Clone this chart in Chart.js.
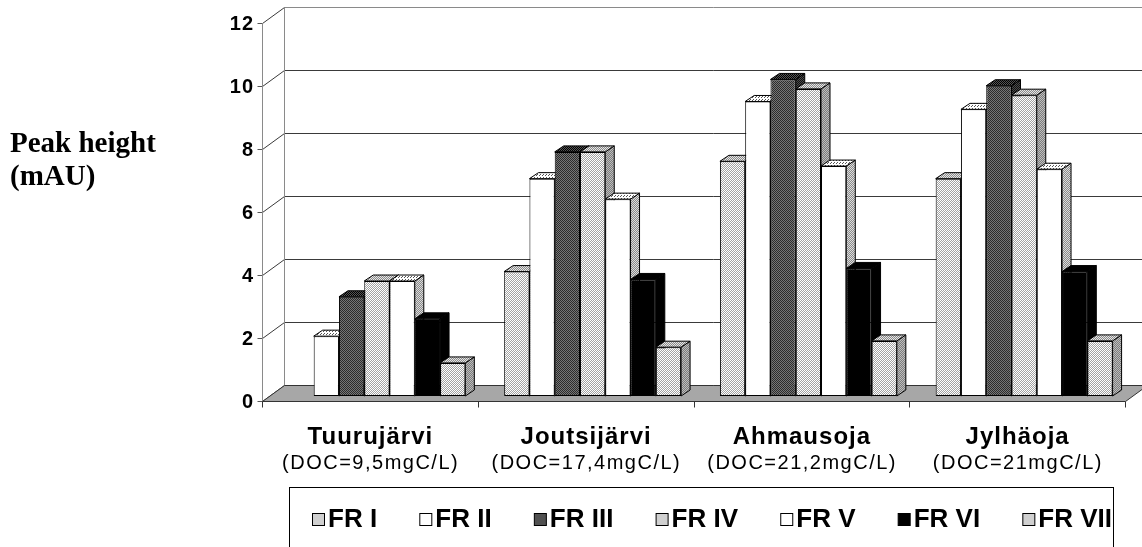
<!DOCTYPE html>
<html lang="en">
<head>
<meta charset="UTF-8">
<title>Peak height by fraction</title>
<script src="https://cdn.jsdelivr.net/npm/chart.js"></script>
<style>
    html, body { margin: 0; padding: 0; background: #fff; }
    #chart { display: block; }
</style>
</head>
<body>
<canvas id="chart" width="1142" height="547"></canvas>
<script>
    const sites = ['Tuurujärvi', 'Joutsijärvi', 'Ahmausoja', 'Jylhäoja'];
    const docLabels = ['(DOC=9,5mgC/L)', '(DOC=17,4mgC/L)', '(DOC=21,2mgC/L)', '(DOC=21mgC/L)'];
    const fractions = ['FR I', 'FR II', 'FR III', 'FR IV', 'FR V', 'FR VI', 'FR VII'];
    const yTicks = [0, 2, 4, 6, 8, 10, 12];

    // peak height (mAU), one value per site
    const frI   = [0,    3.95, 7.45, 6.9];
    const frII  = [1.9,  6.9,  9.35, 9.1];
    const frIII = [3.15, 7.75, 10.05, 9.85];
    const frIV  = [3.65, 7.75, 9.75, 9.55];
    const frV   = [3.65, 6.25, 7.3,  7.2];
    const frVI  = [2.45, 3.7,  4.05, 3.95];
    const frVII = [1.05, 1.55, 1.75, 1.75];
    const series = [frI, frII, frIII, frIV, frV, frVI, frVII];

    // little fill patterns, like the old excel hatches
    const pctx = document.createElement('canvas').getContext('2d');
    function checker(a, b, size) {
        const c = document.createElement('canvas');
        c.width = c.height = size || 2;
        const g = c.getContext('2d');
        g.fillStyle = a;
        g.fillRect(0, 0, c.width, c.height);
        g.fillStyle = b;
        for (let y = 0; y < c.height; y++) {
            for (let x = 0; x < c.width; x++) {
                if ((x + y) % 2 === 1) g.fillRect(x, y, 1, 1);
            }
        }
        return pctx.createPattern(c, 'repeat');
    }
    function dotted(bg, dot) {
        const c = document.createElement('canvas');
        c.width = c.height = 3;
        const g = c.getContext('2d');
        g.fillStyle = bg;
        g.fillRect(0, 0, 3, 3);
        g.fillStyle = dot;
        g.fillRect(0, 0, 1, 1);
        g.fillRect(2, 1, 1, 1);
        return pctx.createPattern(c, 'repeat');
    }

    const lightFront = checker('#ffffff', '#a2a2a2');
    const lightSide = checker('#bdbdbd', '#7c7c7c');
    const lightTop = checker('#e6e6e6', '#8a8a8a');
    const whiteSide = checker('#dcdcdc', '#8a8a8a');
    const whiteTop = dotted('#ffffff', '#555555');
    const darkFront = checker('#2c2c2c', '#777777');
    const darkSide = checker('#111111', '#4a4a4a');
    const darkTop = checker('#000000', '#555555');
    const floorFill = checker('#d4d4d4', '#7a7a7a');

    const seriesStyles = [
        { front: lightFront, side: lightSide, top: lightTop },
        { front: '#ffffff', side: whiteSide, top: whiteTop },
        { front: darkFront, side: darkSide, top: darkTop },
        { front: lightFront, side: lightSide, top: lightTop },
        { front: '#ffffff', side: whiteSide, top: whiteTop },
        { front: '#000000', side: '#000000', top: '#000000' },
        { front: lightFront, side: lightSide, top: lightTop }
    ];

    // offsets of the front edge and back wall from the plane the bars stand in
    const front = { x: -7, y: 5 };
    const back = { x: 15, y: -11 };
    const barDepth = { x: 9, y: 6 };

    function poly(ctx, pts, fill, stroke) {
        ctx.beginPath();
        ctx.moveTo(pts[0][0], pts[0][1]);
        for (let i = 1; i < pts.length; i++) ctx.lineTo(pts[i][0], pts[i][1]);
        ctx.closePath();
        if (fill) { ctx.fillStyle = fill; ctx.fill(); }
        if (stroke) { ctx.strokeStyle = stroke; ctx.lineWidth = 1; ctx.stroke(); }
    }
    function line(ctx, x1, y1, x2, y2, color) {
        ctx.beginPath();
        ctx.moveTo(x1, y1);
        ctx.lineTo(x2, y2);
        ctx.strokeStyle = color;
        ctx.lineWidth = 1;
        ctx.stroke();
    }
    function text(ctx, str, x, y, font, align, spacing, baseline) {
        ctx.save();
        ctx.font = font;
        ctx.fillStyle = '#000';
        ctx.textAlign = align;
        ctx.textBaseline = baseline || 'middle';
        if (spacing) {
            ctx.letterSpacing = spacing + 'px';
            if (align === 'center') x += spacing / 2;
        }
        ctx.fillText(str, x, y);
        ctx.restore();
    }

    const threeD = {
        id: 'threeD',
        beforeDatasetsDraw(chart) {
            const ctx = chart.ctx;
            const xs = chart.scales.x, ys = chart.scales.y;
            const L = xs.left, R = xs.right;
            const y0 = ys.getPixelForValue(0);
            const yTop = ys.getPixelForValue(yTicks[yTicks.length - 1]);
            ctx.save();
            ctx.translate(0.5, 0.5);

            // back wall grid + side wall
            yTicks.forEach(v => {
                const yy = Math.round(ys.getPixelForValue(v));
                line(ctx, Math.round(L + back.x), yy + back.y, R + back.x + 20, yy + back.y, v === 12 ? '#8a8a8a' : '#3a3a3a');
                line(ctx, Math.round(L + front.x), yy + front.y, Math.round(L + back.x), yy + back.y, '#3a3a3a');
                line(ctx, Math.round(L + front.x) - 5, yy + front.y, Math.round(L + front.x), yy + front.y, '#555');
            });
            line(ctx, Math.round(L + back.x), Math.round(yTop) + back.y, Math.round(L + back.x), Math.round(y0) + back.y, '#8a8a8a');
            line(ctx, Math.round(L + front.x), Math.round(yTop) + front.y, Math.round(L + front.x), Math.round(y0) + front.y + 4, '#8a8a8a');

            // floor
            const fy = Math.round(y0) + front.y, by = Math.round(y0) + back.y;
            poly(ctx, [[L + front.x, fy], [R + front.x, fy], [R + back.x, by], [L + back.x, by]], floorFill, '#333');
            const step = (R - L) / sites.length;
            for (let k = 0; k <= sites.length; k++) {
                const xx = Math.round(L + k * step + front.x);
                line(ctx, xx, fy, xx, fy + 6, '#333');
            }
            ctx.restore();
        },
        // chart.js paints datasets last-to-first; skip that and paint them
        // left to right ourselves so each bar hides its left neighbour's side
        beforeDatasetDraw() {
            return false;
        },
        afterDatasetsDraw(chart) {
            const ctx = chart.ctx;
            series.forEach((vals, i) => {
                const st = seriesStyles[i];
                chart.getDatasetMeta(i).data.forEach((bar, j) => {
                    if (!(vals[j] > 0)) return;
                    bar.draw(ctx);
                    const p = bar.getProps(['x', 'y', 'base', 'width'], true);
                    const l = p.x - p.width / 2, r = p.x + p.width / 2;
                    ctx.save();
                    poly(ctx, [[r, p.base], [r + barDepth.x, p.base - barDepth.y], [r + barDepth.x, p.y - barDepth.y], [r, p.y]], st.side, '#000');
                    poly(ctx, [[l, p.y], [r, p.y], [r + barDepth.x, p.y - barDepth.y], [l + barDepth.x, p.y - barDepth.y]], st.top, '#000');
                    ctx.restore();
                });
            });
        },
        afterDraw(chart) {
            const ctx = chart.ctx;
            const xs = chart.scales.x, ys = chart.scales.y;

            // value axis labels sit on the front edge
            yTicks.forEach(v => {
                text(ctx, String(v), xs.left + front.x - 8, ys.getPixelForValue(v) + front.y + 1, 'bold 20px "Liberation Sans", Arial, sans-serif', 'right', 1);
            });

            text(ctx, 'Peak height', 10, 152, 'bold 29px "Liberation Serif", "Times New Roman", serif', 'left', 0, 'alphabetic');
            text(ctx, '(mAU)', 10, 185, 'bold 29px "Liberation Serif", "Times New Roman", serif', 'left', 0, 'alphabetic');

            sites.forEach((s, j) => {
                const cx = xs.getPixelForValue(j) + front.x;
                text(ctx, s, cx, 437, 'bold 24px "Liberation Sans", Arial, sans-serif', 'center', 1);
                text(ctx, docLabels[j], cx, 463, '20px "Liberation Sans", Arial, sans-serif', 'center', 1.5);
            });

            // legend box
            ctx.save();
            ctx.translate(0.5, 0.5);
            ctx.strokeStyle = '#000';
            ctx.lineWidth = 1;
            ctx.strokeRect(289, 487, 1113 - 289, 80);
            ctx.restore();

            const lfont = 'bold 26px "Liberation Sans", Arial, sans-serif';
            ctx.save();
            ctx.font = lfont;
            const box = 12, gap = 4;
            const widths = fractions.map(f => ctx.measureText(f).width);
            ctx.restore();
            const startX = 312, endX = 1112;
            const used = widths.reduce((a, w) => a + box + gap + w, 0);
            const extra = (endX - startX - used) / (fractions.length - 1);
            let lx = startX;
            fractions.forEach((f, i) => {
                ctx.save();
                ctx.translate(0.5, 0.5);
                ctx.fillStyle = seriesStyles[i].front;
                ctx.fillRect(lx, 513, box, box);
                ctx.strokeStyle = '#000';
                ctx.strokeRect(lx, 513, box, box);
                ctx.restore();
                text(ctx, f, lx + box + gap, 520, lfont, 'left', 0);
                lx += box + gap + widths[i] + extra;
            });
        }
    };

    new Chart(document.getElementById('chart'), {
        type: 'bar',
        data: {
            labels: sites,
            datasets: fractions.map((f, i) => ({
                label: f,
                data: series[i],
                backgroundColor: seriesStyles[i].front,
                borderColor: '#000',
                borderWidth: 1,
                borderSkipped: false,
                barPercentage: 1,
                categoryPercentage: 0.82
            }))
        },
        options: {
            responsive: false,
            animation: false,
            devicePixelRatio: 1,
            events: [],
            layout: { padding: { left: 269, right: 10, top: 18, bottom: 151 } },
            plugins: {
                legend: { display: false },
                tooltip: { enabled: false }
            },
            scales: {
                x: { display: false },
                y: { display: false, min: 0, max: 12 }
            }
        },
        plugins: [threeD]
    });
</script>
</body>
</html>
